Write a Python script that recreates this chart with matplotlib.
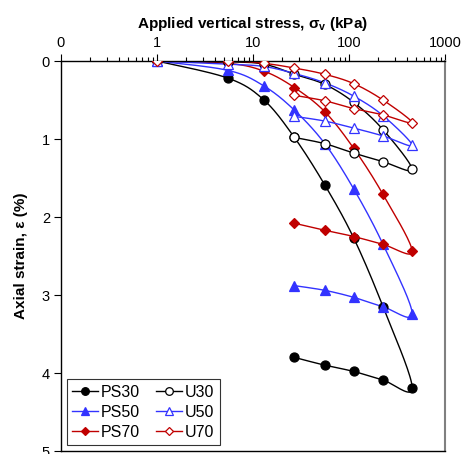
import numpy as np
import matplotlib
matplotlib.use("Agg")
from matplotlib import pyplot as plt
from matplotlib.ticker import LogLocator, NullFormatter

plt.rcParams['font.family'] = ['Liberation Sans', 'DejaVu Sans']
plt.rcParams['mathtext.fontset'] = 'custom'
plt.rcParams['mathtext.rm'] = 'Liberation Sans'
plt.rcParams['mathtext.bf'] = 'Liberation Sans:bold'

# Applied stress steps (kPa): loading then unloading
stress = [1, 5.5, 13, 27, 56, 112, 226, 455, 226, 112, 56, 27]

# Axial strain (%)
ps30 = [0, 0.22, 0.50, 0.98, 1.59, 2.27, 3.15, 4.19, 4.09, 3.98, 3.90, 3.80]
u30 = [0, 0.01, 0.04, 0.17, 0.30, 0.53, 0.88, 1.39, 1.29, 1.18, 1.06, 0.98]
ps50 = [0, 0.12, 0.32, 0.63, 1.06, 1.64, 2.35, 3.24, 3.15, 3.03, 2.94, 2.88]
u50 = [0, 0.04, 0.07, 0.16, 0.28, 0.45, 0.70, 1.08, 0.96, 0.86, 0.77, 0.71]
ps70 = [0, 0.03, 0.13, 0.34, 0.65, 1.12, 1.71, 2.44, 2.35, 2.25, 2.17, 2.08]
u70 = [0, 0.00, 0.03, 0.09, 0.17, 0.29, 0.50, 0.79, 0.69, 0.61, 0.51, 0.44]


def smooth(xs, ys, n=20):
    # Catmull-Rom spline through points, x in log space (like Excel smoothed line)
    lx = np.log10(np.array(xs, dtype=float))
    yy = np.array(ys, dtype=float)
    px, py = [], []
    m = len(lx)
    for i in range(m - 1):
        x0, y0 = (lx[i - 1], yy[i - 1]) if i > 0 else (lx[i], yy[i])
        x1, y1 = lx[i], yy[i]
        x2, y2 = lx[i + 1], yy[i + 1]
        x3, y3 = (lx[i + 2], yy[i + 2]) if i + 2 < m else (lx[i + 1], yy[i + 1])
        t = np.linspace(0, 1, n)
        for a, b, c, d, out in ((x0, x1, x2, x3, px), (y0, y1, y2, y3, py)):
            out.extend(0.5 * ((2 * b) + (-a + c) * t + (2 * a - 5 * b + 4 * c - d) * t ** 2
                              + (-a + 3 * b - 3 * c + d) * t ** 3))
    return 10 ** np.array(px), np.array(py)


fig = plt.figure(figsize=(4.61, 4.54), dpi=100)
ax = fig.add_axes([0.1323, 0.0066, 0.8330, 0.8590])

blue = '#3333FF'
red = '#C00000'
series = [
    ("PS30", ps30, 'k', 'o', 'k'),
    ("PS50", ps50, blue, '^', blue),
    ("PS70", ps70, red, 'D', red),
    ("U30", u30, 'k', 'o', 'white'),
    ("U50", u50, blue, '^', 'white'),
    ("U70", u70, red, 'D', 'white'),
]
for name, vals, col, mk, fc in series:
    sx, sy = smooth(stress, vals)
    ax.plot(sx, sy, color=col, lw=1.0, zorder=2)
    ms = 5 if mk == 'D' else 6.5
    ax.plot(stress, vals, ls='none', marker=mk, ms=ms, mfc=fc, mec=col, mew=0.9, zorder=3)
    ax.plot([], [], color=col, lw=1.0, marker=mk, ms=ms - 1, mfc=fc, mec=col, mew=0.9, label=name)

ax.set_xscale('log')
ax.set_xlim(0.1, 1000)
ax.set_ylim(5, 0)
ax.xaxis.tick_top()
ax.xaxis.set_label_position('top')
ax.set_xticks([0.1, 1, 10, 100, 1000])
ax.set_xticklabels(['0', '1', '10', '100', '1000'])
ax.xaxis.set_minor_locator(LogLocator(base=10, subs=np.arange(2, 10)))
ax.xaxis.set_minor_formatter(NullFormatter())
ax.set_yticks([0, 1, 2, 3, 4, 5])
ax.tick_params(axis='both', which='major', direction='out', length=5, width=0.8, labelsize=10.5, pad=3)
ax.tick_params(axis='x', which='minor', direction='out', length=3, width=0.8)
for s in ['top', 'left', 'bottom']:
    ax.spines[s].set_color('k')
    ax.spines[s].set_linewidth(1.0)
ax.spines['right'].set_color('#808080')
ax.spines['right'].set_linewidth(1.5)

ax.set_xlabel(r'Applied vertical stress, $\mathbf{σ}_\mathbf{v}$ (kPa)', fontsize=11, fontweight='bold', labelpad=6)
ax.set_ylabel('Axial strain, ε (%)', fontsize=11, fontweight='bold', labelpad=10)

leg = ax.legend(loc='lower left', ncol=2, fontsize=11.5, frameon=True, fancybox=False,
                edgecolor='k', handlelength=1.6, handletextpad=0.2, columnspacing=1.0,
                labelspacing=0.3, borderpad=0.35, borderaxespad=0, bbox_to_anchor=(0.015, 0.015))
leg.get_frame().set_linewidth(0.8)

fig.savefig('out.png', dpi=100)
